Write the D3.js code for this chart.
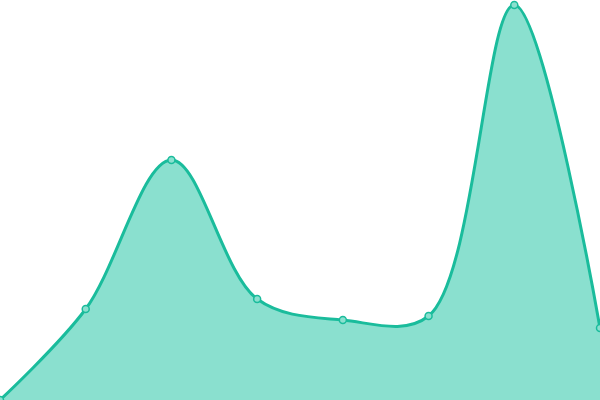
<!DOCTYPE html>
<html><head><meta charset="utf-8">
<script src="https://cdn.jsdelivr.net/npm/d3@7"></script>
<style>html,body{margin:0;padding:0;background:#fff;overflow:hidden}</style>
</head><body>
<svg id="c" width="600" height="400"></svg>
<script>
const categories = [0, 1, 2, 3, 4, 5, 6, 7];
const values = [0, 91, 240, 101, 80, 84, 395, 72];

const W = 600, H = 400;
const svg = d3.select("#c");
const x = d3.scaleLinear().domain([0, categories.length - 1]).range([0, W]);
const y = d3.scaleLinear().domain([0, 400]).range([H, 0]);
const data = categories.map((c, i) => ({c, v: values[i]}));
const curve = d3.curveCatmullRom;

svg.append("path").datum(data)
  .attr("fill", "#8ae0cf")
  .attr("d", d3.area().x(d => x(d.c)).y0(H).y1(d => y(d.v)).curve(curve));
svg.append("path").datum(data)
  .attr("fill", "none").attr("stroke", "#1abc9c").attr("stroke-width", 3)
  .attr("d", d3.line().x(d => x(d.c)).y(d => y(d.v)).curve(curve));
svg.selectAll("circle").data(data).join("circle")
  .attr("cx", d => x(d.c)).attr("cy", d => y(d.v)).attr("r", 3.5)
  .attr("fill", "#8ae0cf").attr("stroke", "#1abc9c").attr("stroke-width", 1.5);
</script>
</body></html>
